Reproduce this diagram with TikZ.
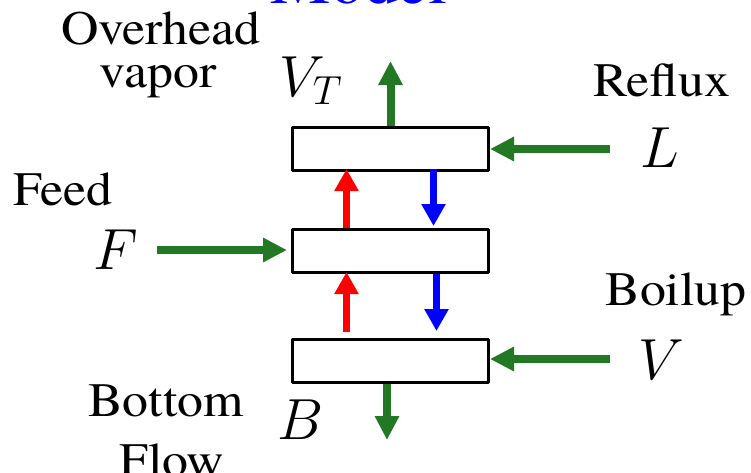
\RequirePackage{fix-cm}
\documentclass[tikz,border=0pt]{standalone}
\usepackage{fontspec}
\setmainfont{TeX Gyre Termes}
\newfontfamily\lblfont{TeX Gyre Termes}[FakeStretch=1.08]
\usetikzlibrary{arrows.meta,positioning}
\definecolor{flowgreen}{RGB}{35,120,35}

\begin{document}
\begin{tikzpicture}[
  x=1pt, y=-1pt,
  tray/.style={draw, line width=3pt, line join=round, minimum width=196pt, minimum height=43pt, inner sep=0pt},
  lbl/.style={font=\lblfont\fontsize{48}{52}\selectfont, anchor=base, inner sep=0pt},
  sym/.style={font=\fontsize{58}{60}\selectfont, anchor=base, inner sep=0pt},
  vaparr/.style={-{Triangle[width=23pt,length=22pt]}, line width=7pt, red},
  liqarr/.style={-{Triangle[width=23pt,length=22pt]}, line width=7pt, blue},
  ext/.style={-{Triangle[width=23pt,length=24pt]}, line width=8pt, flowgreen}
]
\useasboundingbox (0,0) rectangle (751,472);

% trays
\node[tray] (top) at (390.5,149) {};
\node[tray, below=56pt of top] (mid) {};
\node[tray, below=64pt of mid] (bot) {};

% labels
\node[font=\fontsize{68}{70}\selectfont, text=blue, anchor=base, inner sep=0pt] (title) at (359,3) {Model};
\node[lbl] (ovh) at (161,44) {Overhead};
\node[lbl] (ovv) at (158,87) {vapor};
\node[sym] (vt) at (311,96) {$V_T$};
\node[lbl] (refl) at (662,96) {Reflux};
\node[sym] (L) at (660,167) {$L$};
\node[lbl] (feed) at (63,205) {Feed};
\node[sym] (F) at (116,269) {$F$};
\node[lbl] (boil) at (676,305) {Boilup};
\node[sym] (V) at (661,379) {$V$};
\node[lbl] (btm) at (166,416) {Bottom};
\node[lbl] (flow) at (172,476) {Flow};
\node[sym] (B) at (301,439) {$B$};

% outside streams
\coordinate (vtout) at (390.5,61);
\coordinate (refin) at (610,149);
\coordinate (feedin) at (157,250);
\coordinate (boilin) at (610,359);
\coordinate (bout) at (387,440);

\draw[ext] (top.north) -- (vtout);
\draw[ext] (refin) -- (refin -| top.east);
\draw[ext, shorten >=4pt] (feedin) -- (feedin -| mid.west);
\draw[ext] (boilin) -- (boilin -| bot.east);
\draw[ext] (bot.south -| bout) -- (bout);

% internal flows
\draw[vaparr, shorten >=-3pt] ([xshift=-44pt]mid.north) -- ([xshift=-44pt]top.south);
\draw[vaparr, shorten <=6pt, shorten >=-2pt] ([xshift=-44pt]bot.north) -- ([xshift=-44pt]mid.south);
\draw[liqarr, shorten <=-3pt, shorten >=2pt] ([xshift=43pt]top.south) -- ([xshift=43pt]mid.north);
\draw[liqarr, shorten >=7pt] ([xshift=46pt]mid.south) -- ([xshift=46pt]bot.north);
\end{tikzpicture}
\end{document}
